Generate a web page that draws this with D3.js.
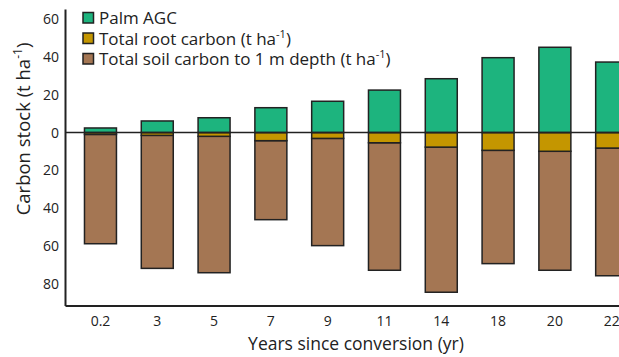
<!DOCTYPE html>
<html>
<head>
<meta charset="utf-8">
<script src="https://cdn.jsdelivr.net/npm/d3@7"></script>
<style>
  body { margin: 0; background: #fff; }
  svg text { font-family: "Open Sans", sans-serif; fill: #222; }
</style>
</head>
<body>
<div id="chart"></div>
<script>
// years since conversion
var years = ['0.2', '3', '5', '7', '9', '11', '14', '18', '20', '22']
// carbon stocks, t ha-1 (root and soil drawn downward)
var palmAGC = [2.4, 6.1, 7.8, 13.1, 16.5, 22.4, 28.4, 39.5, 45.0, 37.2]
var rootC = [1.0, 1.5, 2.0, 4.3, 3.1, 5.4, 7.7, 9.4, 9.9, 8.2]
var soilC = [57.7, 70.2, 72.0, 41.7, 56.6, 67.3, 76.6, 59.8, 62.8, 67.4]
var yTicks = [-80, -60, -40, -20, 0, 20, 40, 60]
var legendItems = [
    { name: 'Palm AGC', color: '#1db47e', sup: false },
    { name: 'Total root carbon (t ha', color: '#c49600', sup: true },
    { name: 'Total soil carbon to 1 m depth (t ha', color: '#a47653', sup: true }
]

var W = 619, H = 357
var svg = d3.select('#chart').append('svg')
    .attr('width', W)
    .attr('height', H)

var x = d3.scaleBand()
    .domain(years)
    .range([65, 65 + 56.8 * (10 - 0.437 + 2 * 0.343)])
    .paddingInner(0.437)
    .paddingOuter(0.343)

var y = d3.scaleLinear()
    .domain([-91.3, 65.2])
    .range([305.5, 9])

var rows = years.map(function (d, i) {
    return { year: d, palm: palmAGC[i], root: rootC[i], soil: soilC[i] }
})

var bars = svg.append('g')
    .selectAll('g')
    .data(rows)
    .enter()
    .append('g')

// soil below root
bars.append('rect')
    .attr('x', d => x(d.year))
    .attr('width', x.bandwidth())
    .attr('y', d => y(-d.root))
    .attr('height', d => y(-d.root - d.soil) - y(-d.root))
    .attr('fill', legendItems[2].color)
    .attr('stroke', '#222')
    .attr('stroke-width', 1.5)

bars.append('rect')
    .attr('x', d => x(d.year))
    .attr('width', x.bandwidth())
    .attr('y', y(0))
    .attr('height', d => y(-d.root) - y(0))
    .attr('fill', legendItems[1].color)
    .attr('stroke', '#222')
    .attr('stroke-width', 1.5)

bars.append('rect')
    .attr('x', d => x(d.year))
    .attr('width', x.bandwidth())
    .attr('y', d => y(d.palm))
    .attr('height', d => y(0) - y(d.palm))
    .attr('fill', legendItems[0].color)
    .attr('stroke', '#222')
    .attr('stroke-width', 1.5)

// zero line
svg.append('line')
    .attr('x1', 65).attr('x2', W)
    .attr('y1', y(0)).attr('y2', y(0))
    .attr('stroke', '#222')
    .attr('stroke-width', 1.5)

// axes
var yAxis = svg.append('g')
    .attr('transform', 'translate(65,0)')
    .call(d3.axisLeft(y).tickValues(yTicks).tickSize(0).tickPadding(6)
        .tickFormat(d => Math.abs(d)))
yAxis.selectAll('text').style('font-size', '14px')

var xAxis = svg.append('g')
    .attr('transform', 'translate(0,' + y.range()[0] + ')')
    .call(d3.axisBottom(x).tickSize(0).tickPadding(11))
xAxis.selectAll('text').style('font-size', '14px')

svg.selectAll('.domain').attr('stroke', '#222').attr('stroke-width', 2)

// axis titles
svg.append('text')
    .attr('x', 356)
    .attr('y', 350)
    .attr('text-anchor', 'middle')
    .style('font-size', '17.5px')
    .text('Years since conversion (yr)')

var yt = svg.append('text')
    .attr('transform', 'translate(30,129) rotate(-90)')
    .attr('text-anchor', 'middle')
    .style('font-size', '18.5px')
yt.append('tspan').text('Carbon stock (t ha')
yt.append('tspan').text('-1').attr('baseline-shift', 'super').style('font-size', '12px')
yt.append('tspan').text(')')

// legend
var leg = svg.append('g')
    .selectAll('g')
    .data(legendItems)
    .enter()
    .append('g')
    .attr('transform', (d, i) => 'translate(83,' + (12.5 + i * 20.5) + ')')

leg.append('rect')
    .attr('width', 10.5).attr('height', 10.5)
    .attr('fill', d => d.color)
    .attr('stroke', '#222')
    .attr('stroke-width', 1.5)

var lt = leg.append('text')
    .attr('x', 16)
    .attr('y', 11.5)
    .style('font-size', '17px')
lt.append('tspan').text(d => d.name)
lt.filter(d => d.sup).append('tspan').text('-1').attr('baseline-shift', 'super').style('font-size', '11px')
lt.filter(d => d.sup).append('tspan').text(')')
</script>
</body>
</html>
